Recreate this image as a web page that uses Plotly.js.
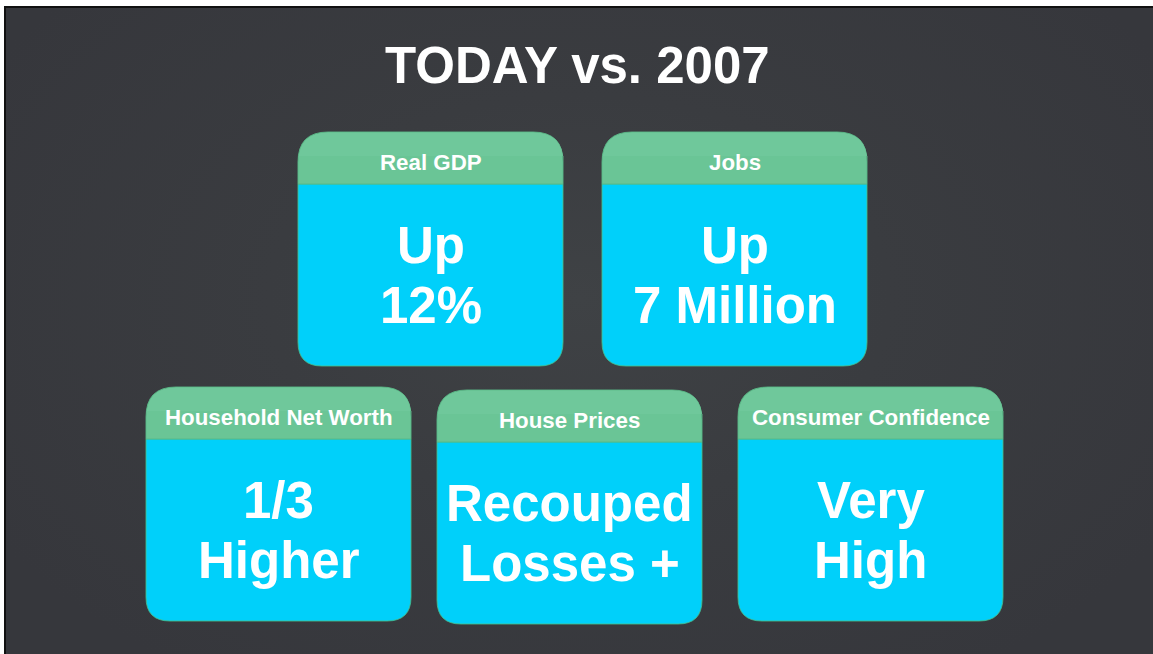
<!DOCTYPE html>
<html>
<head>
<meta charset="utf-8">
<script src="https://cdn.plot.ly/plotly-3.0.1.min.js"></script>
<style>
  html, body { margin: 0; padding: 0; width: 1153px; height: 654px; overflow: hidden; background: #ffffff; }
  #bg {
    position: absolute; left: 4px; top: 6px; width: 1149px; height: 648px;
    border-left: 2px solid #111; border-top: 2px solid #111; box-sizing: border-box;
    background: radial-gradient(ellipse 60% 70% at 50% 45%, #3f4245 0%, #3a3c40 45%, #36373c 100%);
  }
  #chart { position: absolute; left: 0; top: 0; width: 1153px; height: 654px; }
</style>
</head>
<body>
<div id="bg"></div>
<div id="chart"></div>
<script>
// ---- data ----
const chartTitle = 'TODAY vs. 2007';
const categories = ['Real GDP', 'Jobs', 'Household Net Worth', 'House Prices', 'Consumer Confidence'];
const valueLine1 = ['Up', 'Up', '1/3', 'Recouped', 'Very'];
const valueLine2 = ['12%', '7 Million', 'Higher', 'Losses +', 'High'];

// ---- layout geometry (pixel space) ----
const W = 1153, H = 654;
const boxLeft = [298, 602, 146, 437, 738];
const boxTop = [132, 132, 387, 390, 387];
const boxW = 265, boxH = 234, headH = 52;
const rTop = 30, rBot = 24;

const headColor = '#6ac596';
const headLight = '#72c99c';
const bodyColor = '#00d0fa';
const font = '"Liberation Sans", Arial, sans-serif';

function headerPath(x, y, h) {
  const x1 = x + boxW, y1 = y + h;
  return `M ${x} ${y1} L ${x} ${y + rTop} Q ${x} ${y} ${x + rTop} ${y} L ${x1 - rTop} ${y} Q ${x1} ${y} ${x1} ${y + rTop} L ${x1} ${y1} Z`;
}
function bodyPath(x, y) {
  const x1 = x + boxW, y0 = y + headH, y1 = y + boxH;
  return `M ${x} ${y0} L ${x1} ${y0} L ${x1} ${y1 - rBot} Q ${x1} ${y1} ${x1 - rBot} ${y1} L ${x + rBot} ${y1} Q ${x} ${y1} ${x} ${y1 - rBot} Z`;
}

const shapes = [];
const annotations = [];
categories.forEach((cat, i) => {
  const x = boxLeft[i], y = boxTop[i];
  shapes.push({ type: 'path', xref: 'x', yref: 'y', path: bodyPath(x, y),
    fillcolor: bodyColor, line: { color: 'rgba(70,190,140,0.85)', width: 1 }, layer: 'below' });
  shapes.push({ type: 'path', xref: 'x', yref: 'y', path: headerPath(x, y, headH),
    fillcolor: headColor, line: { color: 'rgba(90,185,135,0.9)', width: 1 }, layer: 'below' });
  shapes.push({ type: 'path', xref: 'x', yref: 'y', path: headerPath(x + 0.5, y + 0.5, headH * 0.45),
    fillcolor: headLight, line: { width: 0 }, opacity: 0.7, layer: 'below' });
  const cx = x + boxW / 2;
  const bodyMid = y + headH + (boxH - headH) / 2;
  annotations.push({ x: cx, y: y + 30, xref: 'x', yref: 'y', text: '<b>' + cat + '</b>', showarrow: false,
    xanchor: 'center', yanchor: 'middle', font: { family: font, size: 22.3, color: '#ffffff' } });
  annotations.push({ x: cx, y: bodyMid - 30, xref: 'x', yref: 'y', text: '<b>' + valueLine1[i] + '</b>', showarrow: false,
    xanchor: 'center', yanchor: 'middle', font: { family: font, size: 51, color: '#ffffff' } });
  annotations.push({ x: cx, y: bodyMid + 30, xref: 'x', yref: 'y', text: '<b>' + valueLine2[i] + '</b>', showarrow: false,
    xanchor: 'center', yanchor: 'middle', font: { family: font, size: 51, color: '#ffffff' } });
});

annotations.push({ x: 577, y: 65, xref: 'x', yref: 'y', text: '<b>' + chartTitle + '</b>', showarrow: false,
  xanchor: 'center', yanchor: 'middle', font: { family: font, size: 51, color: '#ffffff' } });

const layout = {
  width: W, height: H,
  margin: { l: 0, r: 0, t: 0, b: 0, pad: 0 },
  paper_bgcolor: 'rgba(0,0,0,0)', plot_bgcolor: 'rgba(0,0,0,0)',
  font: { family: font },
  xaxis: { range: [0, W], visible: false, fixedrange: true },
  yaxis: { range: [H, 0], visible: false, fixedrange: true },
  showlegend: false,
  shapes: shapes,
  annotations: annotations
};

Plotly.newPlot('chart', [], layout, { staticPlot: true, displayModeBar: false });
</script>
</body>
</html>
